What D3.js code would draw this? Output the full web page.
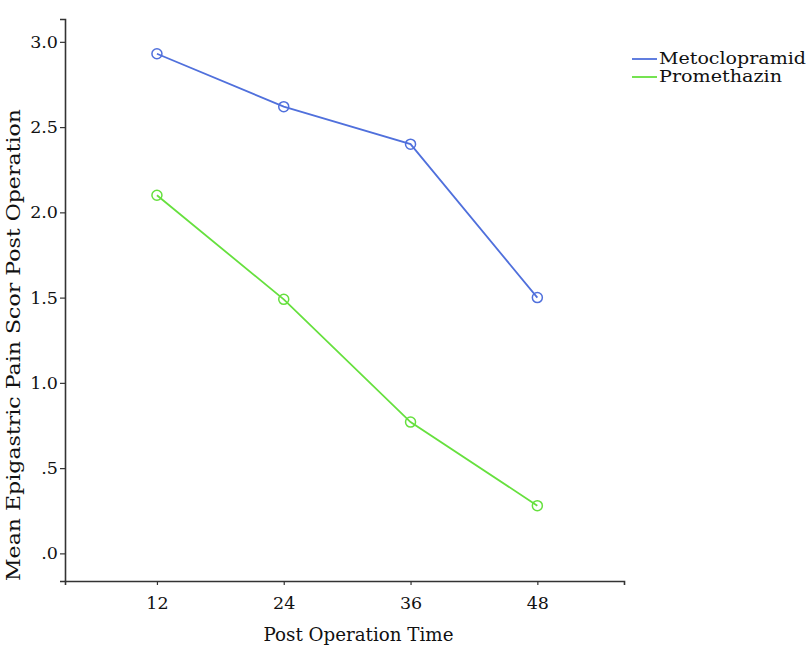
<!DOCTYPE html>
<html>
<head>
<meta charset="utf-8">
<script src="https://cdn.jsdelivr.net/npm/d3@7"></script>
<style>
  body { margin: 0; background: #fff; }
  text { font-family: "DejaVu Serif", serif; fill: #111; }
</style>
</head>
<body>
<svg id="chart" width="808" height="647"></svg>
<script>
const times = [12, 24, 36, 48];
const timeLabels = ["12", "24", "36", "48"];
const metoclopramid = [2.93, 2.62, 2.40, 1.50];
const promethazin = [2.10, 1.49, 0.77, 0.28];
const seriesNames = ["Metoclopramid", "Promethazin"];
const seriesColors = ["#5070dc", "#66e03e"];
const yTicks = [0, 0.5, 1.0, 1.5, 2.0, 2.5, 3.0];
const xTitle = "Post Operation Time";
const yTitle = "Mean Epigastric Pain Scor Post Operation";

(function () {
const svg = d3.select("#chart");
const mLeft = 65, mRight = 624, mTop = 19, mBottom = 581;

const x = d3.scaleLinear().domain([3.3, 56.2]).range([mLeft, mRight]);
const y = d3.scaleLinear().domain([-0.162, 3.134]).range([mBottom, mTop]);

const fmt = v => v === 0 ? ".0" : (v < 1 ? d3.format(".1f")(v).replace(/^0/, "") : d3.format(".1f")(v));

// Y axis
const yAxis = svg.append("g").attr("transform", `translate(${mLeft},0)`)
  .call(d3.axisLeft(y).tickValues(yTicks).tickFormat(fmt).tickSize(5).tickPadding(2));
yAxis.select(".domain").attr("stroke", "#333").attr("stroke-width", 1.6);
yAxis.selectAll(".tick line").attr("stroke", "#333").attr("stroke-width", 1.2);
yAxis.selectAll(".tick text").attr("font-size", 17.5).attr("font-family", "DejaVu Serif").attr("fill", "#111");

// X axis
const xAxis = svg.append("g").attr("transform", `translate(0,${mBottom})`)
  .call(d3.axisBottom(x).tickValues(times).tickFormat((d, i) => timeLabels[i]).tickSize(4).tickPadding(12));
xAxis.select(".domain").attr("stroke", "#333").attr("stroke-width", 1.6);
xAxis.selectAll(".tick line").attr("stroke", "#333").attr("stroke-width", 1.2);
xAxis.selectAll(".tick text").attr("font-size", 17.5).attr("font-family", "DejaVu Serif").attr("fill", "#111");

// Titles
svg.append("text").attr("x", (mLeft + mRight) / 2 + 14).attr("y", 641)
  .attr("text-anchor", "middle").attr("font-size", 18.5)
  .attr("textLength", 190).attr("lengthAdjust", "spacingAndGlyphs").text(xTitle);
svg.append("text").attr("transform", `translate(20,${(108 + 582) / 2}) rotate(-90)`)
  .attr("text-anchor", "middle").attr("font-size", 18.5)
  .attr("textLength", 472).attr("lengthAdjust", "spacingAndGlyphs").text(yTitle);

// Series
const series = [metoclopramid, promethazin];
const line = d3.line().x((d, i) => x(times[i])).y(d => y(d));
series.forEach((vals, s) => {
  svg.append("path").datum(vals).attr("d", line)
    .attr("fill", "none").attr("stroke", seriesColors[s]).attr("stroke-width", 1.8);
  svg.selectAll(null).data(vals).enter().append("circle")
    .attr("cx", (d, i) => x(times[i])).attr("cy", d => y(d)).attr("r", 5)
    .attr("fill", "none").attr("stroke", seriesColors[s]).attr("stroke-width", 1.5);
});

// Legend
seriesNames.forEach((name, s) => {
  const ly = 59 + s * 18;
  svg.append("line").attr("x1", 632).attr("x2", 657).attr("y1", ly).attr("y2", ly)
    .attr("stroke", seriesColors[s]).attr("stroke-width", 1.8);
  svg.append("text").attr("x", 659).attr("y", ly + 5).attr("font-size", 16)
    .attr("textLength", s === 0 ? 147 : 123).attr("lengthAdjust", "spacingAndGlyphs").text(name);
});
})();
</script>
</body>
</html>
